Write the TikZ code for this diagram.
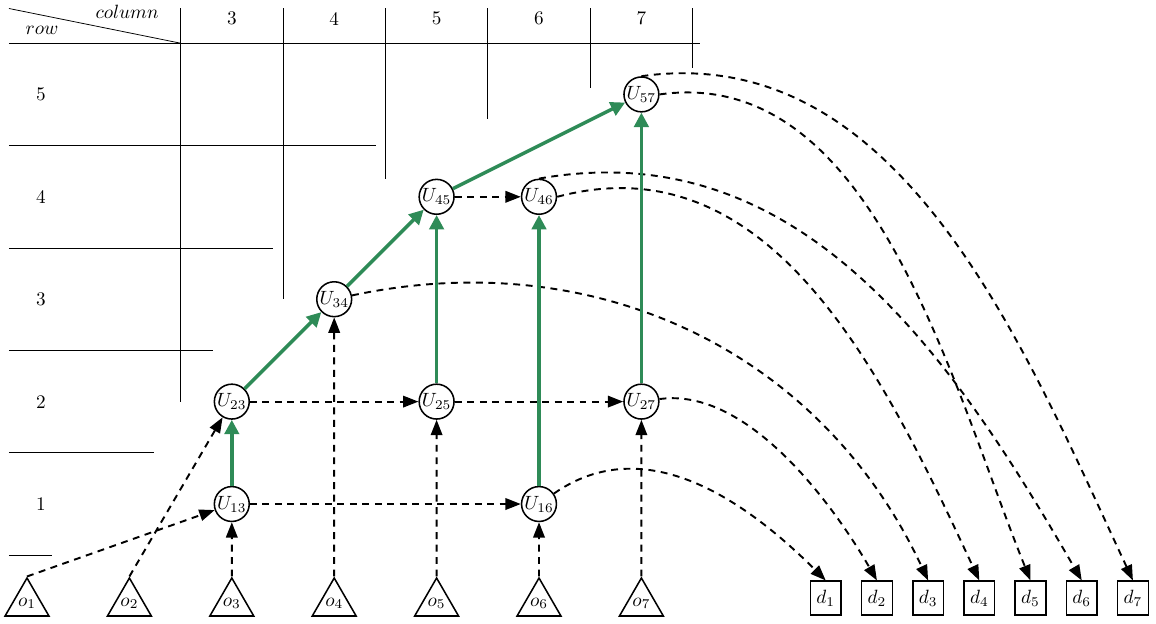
\documentclass[tikz,border=0pt]{standalone}
\usepackage{tikz}
\usetikzlibrary{arrows.meta,shapes.geometric}
\definecolor{pathgreen}{RGB}{46,139,87}

\begin{document}
\begin{tikzpicture}[x=1.875cm,y=1.875cm,
    unode/.style={circle,draw,thick,minimum size=18pt,inner sep=0.3pt},
    onode/.style={regular polygon,regular polygon sides=3,draw,thick,minimum size=24pt,inner sep=0pt},
    dnode/.style={rectangle,draw,thick,minimum width=16pt,minimum height=17.5pt,inner sep=1pt},
    flow/.style={line width=1pt,dash pattern=on 3.6pt off 2.9pt,-{Triangle[length=8pt,width=6pt]}},
    best/.style={pathgreen,line width=1.8pt,-{Triangle[length=7.5pt,width=7.5pt]}},
    tabline/.style={thin}]
  \useasboundingbox (0.7363,-0.1621) rectangle (12.0254,5.922);
  % table head
  \draw[tabline] (0.824,5.5) -- (7.57,5.5);
  \draw[tabline] (0.824,5.839) -- (2.5,5.5);
  \node (colhead) at (1.977,5.81) {$column$};
  \node (rowhead) at (1.146,5.63) {$row$};
  \node (C3) at (3,5.741) {3};
  \node (C4) at (4,5.741) {4};
  \node (C5) at (5,5.741) {5};
  \node (C6) at (6,5.741) {6};
  \node (C7) at (7,5.741) {7};
  \draw[tabline] (2.5,5.839) -- (2.5,2.0);
  \draw[tabline] (3.5,5.839) -- (3.5,3.0);
  \draw[tabline] (4.5,5.839) -- (4.5,4.17);
  \draw[tabline] (5.5,5.839) -- (5.5,4.76);
  \draw[tabline] (6.5,5.839) -- (6.5,5.06);
  \draw[tabline] (7.5,5.839) -- (7.5,5.26);
  \node (R5) at (1.137,5) {5};
  \node (R4) at (1.137,4) {4};
  \node (R3) at (1.137,3) {3};
  \node (R2) at (1.137,2) {2};
  \node (R1) at (1.137,1) {1};
  \draw[tabline] (0.824,4.5) -- (4.41,4.5);
  \draw[tabline] (0.824,3.5) -- (3.40,3.5);
  \draw[tabline] (0.824,2.5) -- (2.82,2.5);
  \draw[tabline] (0.824,1.5) -- (2.24,1.5);
  \draw[tabline] (0.824,0.5) -- (1.24,0.5);
  % states
  \node[unode] (U13) at (3,1) {$U_{13}$};
  \node[unode] (U16) at (6,1) {$U_{16}$};
  \node[unode] (U23) at (3,2) {$U_{23}$};
  \node[unode] (U25) at (5,2) {$U_{25}$};
  \node[unode] (U27) at (7,2) {$U_{27}$};
  \node[unode] (U34) at (4,3) {$U_{34}$};
  \node[unode] (U45) at (5,4) {$U_{45}$};
  \node[unode] (U46) at (6,4) {$U_{46}$};
  \node[unode] (U57) at (7,5) {$U_{57}$};
  % sources
  \node[onode] (o1) at (1,0.03) {$o_1$};
  \node[onode] (o2) at (2,0.03) {$o_2$};
  \node[onode] (o3) at (3,0.03) {$o_3$};
  \node[onode] (o4) at (4,0.03) {$o_4$};
  \node[onode] (o5) at (5,0.03) {$o_5$};
  \node[onode] (o6) at (6,0.03) {$o_6$};
  \node[onode] (o7) at (7,0.03) {$o_7$};
  % sinks
  \node[dnode] (d1) at (8.8,0.082) {$d_1$};
  \node[dnode] (d2) at (9.3,0.082) {$d_2$};
  \node[dnode] (d3) at (9.8,0.082) {$d_3$};
  \node[dnode] (d4) at (10.3,0.082) {$d_4$};
  \node[dnode] (d5) at (10.8,0.082) {$d_5$};
  \node[dnode] (d6) at (11.3,0.082) {$d_6$};
  \node[dnode] (d7) at (11.8,0.082) {$d_7$};
  \path[flow]
    (o1.north) edge (U13)
    (o2.north) edge (U23)
    (o3.north) edge (U13)
    (o4.north) edge (U34)
    (o5.north) edge (U25)
    (o6.north) edge (U16)
    (o7.north) edge (U27)
    (U13) edge (U16)
    (U23) edge (U25)
    (U25) edge (U27)
    (U45) edge (U46)
    (U16) edge[out=35,in=135] (d1.north)
    (U27) edge[out=8,in=120,looseness=0.8] (d2.north)
    (U34) edge[out=12,in=115] (d3.north)
    (U46.east) edge[out=15,in=115] (d4.north)
    (U57.east) edge[out=8,in=112,looseness=0.9] (d5.north)
    (U46.north) edge[out=10,in=120] (d6.north)
    (U57.north) edge[out=8,in=115,looseness=0.95] (d7.north);
  \path[best]
    (U13) edge (U23)
    (U23) edge (U34)
    (U34) edge (U45)
    (U45) edge (U57)
    (U25) edge (U45)
    (U16) edge (U46)
    (U27) edge (U57);
\end{tikzpicture}
\end{document}
